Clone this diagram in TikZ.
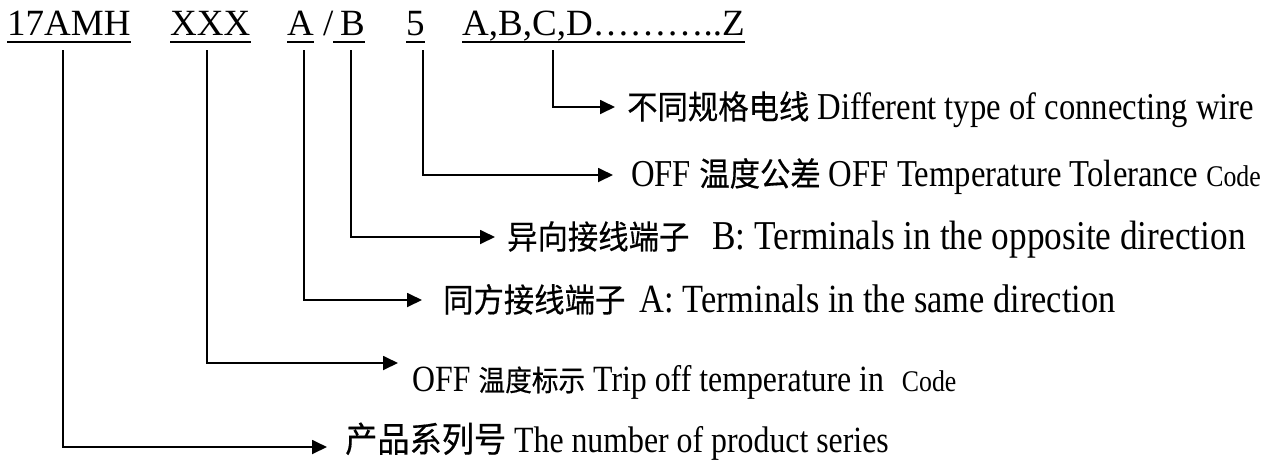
\documentclass[tikz,border=0pt]{standalone}
\usepackage{fontspec}
\setmainfont{Liberation Serif}
\newfontfamily\cond[FakeStretch=0.86]{Liberation Serif}
\newfontfamily\cjk[FakeStretch=0.92,FakeBold=0.4]{Noto Sans CJK SC}
\usetikzlibrary{arrows.meta}
\begin{document}
\begin{tikzpicture}[x=1pt,y=-1pt,
  hdr/.style={anchor=base west,inner sep=0pt,font=\fontsize{37}{40}\selectfont},
  lbl/.style={anchor=base west,inner sep=0pt,font=\cond\fontsize{38}{42}\selectfont},
  uline/.style={line width=2.2pt},
  conn/.style={line width=1.8pt,-{Triangle[length=15pt,width=14pt]}}]
\useasboundingbox (0,0) rectangle (1274,459);
% header tokens
\node[hdr] (h1) at (7,35) {17AMH};
\node[hdr] (h2) at (170,35) {XXX};
\node[hdr] (h3) at (287,35) {A};
\node[hdr] (hs) at (323,35) {/};
\node[hdr] (h4) at (333,35) {\hspace{7pt}B};
\node[hdr] (h5) at (406,35) {5};
\node[hdr] (h6) at (462,35) {A,B,C,D………..Z};
\foreach \n in {h1,h2,h3,h4,h5,h6}
  \draw[uline] ([yshift=-7pt]\n.base west) -- ([yshift=-7pt]\n.base east);
% tick starts
\coordinate (s1) at (63,50);
\coordinate (s2) at (207,50);
\coordinate (s3) at (304,50);
\coordinate (s4) at (351,50);
\coordinate (s5) at (423,50);
\coordinate (s6) at (553,50);
% labels
\node[lbl] (l1) at (627,119) {{\cjk\fontsize{33}{36}\selectfont 不同规格电线} Different type of connecting wire};
\node[lbl] (l2) at (631,186) {OFF {\cjk\fontsize{33}{36}\selectfont 温度公差} OFF Temperature Tolerance {\fontsize{30}{34}\selectfont Code}};
\node[lbl,font=\cond\fontsize{41}{44}\selectfont] (l3) at (507,249) {{\cjk\fontsize{33}{36}\selectfont 异向接线端子}\hspace{23pt}B: Terminals in the opposite direction};
\node[lbl,font=\cond\fontsize{40}{43}\selectfont] (l4) at (443,312) {{\cjk\fontsize{33}{36}\selectfont 同方接线端子}\hspace{14pt}A: Terminals in the same direction};
\node[lbl,font=\cond\fontsize{37}{40}\selectfont] (l5) at (412,391) {OFF {\cjk\fontsize{29}{32}\selectfont 温度标示} Trip off temperature in\hspace{18pt}{\fontsize{30}{34}\selectfont Code}};
\node[lbl,font=\cond\fontsize{37}{40}\selectfont] (l6) at (345,452) {{\cjk\fontsize{35}{38}\selectfont 产品系列号} The number of product series};
% connectors
\draw[conn] (s6) |- ([xshift=-12pt,yshift=12pt]l1.base west);
\draw[conn] (s5) |- ([xshift=-18pt,yshift=11pt]l2.base west);
\draw[conn] (s4) |- ([xshift=-12pt,yshift=12pt]l3.base west);
\draw[conn] (s3) |- ([xshift=-21pt,yshift=12pt]l4.base west);
\draw[conn] (s2) |- ([xshift=-14pt,yshift=28pt]l5.base west);
\draw[conn] (s1) |- ([xshift=-18pt,yshift=5pt]l6.base west);
\end{tikzpicture}
\end{document}
